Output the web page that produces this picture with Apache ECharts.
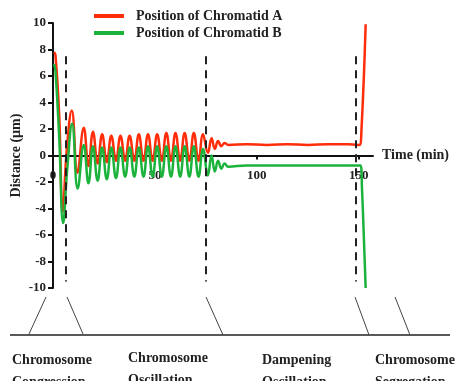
<!DOCTYPE html>
<html>
<head>
<meta charset="utf-8">
<script src="https://cdn.jsdelivr.net/npm/echarts@6/dist/echarts.min.js"></script>
<style>
  html, body { margin: 0; padding: 0; background: #fff; }
  #main { width: 457px; height: 381px; }
</style>
</head>
<body>
<div id="main"></div>
<script>
'use strict';

// time (min) / distance (um), peaks and troughs
var timeA = [0.5, 1.2, 3.0, 4.8, 6.8, 9.2, 12.0, 15.1, 17.4, 19.6, 21.9, 24.1, 26.4, 28.6, 30.9, 33.1, 35.4, 37.6, 39.9,
    42.1, 44.4, 46.6, 48.9, 51.1, 53.4, 55.6, 57.9, 60.1, 62.4, 64.6, 66.9, 69.1, 71.4, 73.6, 76.0, 77.8, 79.4, 81.0,
    82.6, 84.2, 86.0, 95, 105, 115, 125, 135, 145, 150.3, 151.3, 153.4];
var distA = [7.8, 7.6, 3.2, -4.2, 0.5, 3.4, -1.3, 2.1, -0.8, 1.8, -0.6, 1.6, -0.5, 1.5, -0.4, 1.5, -0.4, 1.5, -0.4,
    1.6, -0.4, 1.6, -0.4, 1.6, -0.4, 1.7, -0.4, 1.7, -0.4, 1.7, -0.4, 1.7, -0.4, 1.6, 0.2, 1.3, 0.5, 1.1,
    0.7, 0.95, 0.8, 0.85, 0.8, 0.85, 0.8, 0.85, 0.85, 0.8, 1.8, 9.9];

var timeB = [0.5, 1.2, 3.0, 5.0, 7.0, 9.4, 12.1, 15.1, 17.4, 19.6, 21.9, 24.1, 26.4, 28.6, 30.9, 33.1, 35.4, 37.6, 39.9,
    42.1, 44.4, 46.6, 48.9, 51.1, 53.4, 55.6, 57.9, 60.1, 62.4, 64.6, 66.9, 69.1, 71.4, 73.6, 76.0, 77.8, 79.4, 81.0,
    82.6, 84.2, 86.0, 95, 105, 115, 125, 135, 145, 150.8, 151.6, 153.4];
var distB = [6.9, 6.4, 1.5, -5.1, -1.0, 2.4, -2.5, 0.8, -2.1, 0.7, -1.9, 0.6, -1.8, 0.6, -1.7, 0.6, -1.6, 0.6, -1.6,
    0.6, -1.6, 0.7, -1.6, 0.7, -1.6, 0.7, -1.6, 0.7, -1.6, 0.7, -1.6, 0.7, -1.6, 0.5, -1.5, 0.0, -1.2, -0.4,
    -1.0, -0.6, -0.85, -0.75, -0.75, -0.75, -0.75, -0.75, -0.75, -0.75, -2.5, -10];

var seriesNames = ['Position of Chromatid A', 'Position of Chromatid B'];
var phaseTimes = [6.4, 75, 148.5];   // dashed dividers
var phaseLabels = ['Chromosome\nCongression', 'Chromosome\nOscillation', 'Dampening\nOscillation', 'Chromosome\nSegregation'];
var xTicks = [0, 50, 100, 150];

function zip(xs, ys) {
    return xs.map(function (x, i) { return [x, ys[i]]; });
}

var serif = '"Liberation Serif", "DejaVu Serif", serif';
var myChart = echarts.init(document.getElementById('main'));

var option = {
    animation: false,
    backgroundColor: '#fff',
    textStyle: { fontFamily: serif },
    grid: { left: 53, right: 84, top: 23, bottom: 93, outerBoundsMode: 'none' },
    legend: {
        orient: 'vertical',
        left: 89,
        top: 4,
        itemWidth: 30,
        itemHeight: 4,
        itemGap: 3,
        icon: 'rect',
        data: seriesNames,
        textStyle: { fontFamily: serif, fontWeight: 'bold', fontSize: 14, color: '#222', padding: [0, 0, 0, 7] }
    },
    xAxis: {
        type: 'value',
        min: 0,
        max: 157,
        // axis sits on y = 0, i.e. half way up the 265px tall grid
        offset: -132.5,
        name: 'Time (min)',
        nameLocation: 'end',
        nameGap: 9,
        nameTextStyle: { fontFamily: serif, fontWeight: 'bold', fontSize: 14, color: '#222', padding: [29, 0, 0, 0] },
        splitLine: { show: false },
        axisLine: { onZero: false, lineStyle: { color: '#111', width: 2 } },
        axisTick: { customValues: xTicks.slice(1), length: 4, lineStyle: { color: '#111', width: 2 } },
        axisLabel: { customValues: xTicks, margin: 14, fontFamily: serif, fontWeight: 'bold', fontSize: 13, color: '#222' }
    },
    yAxis: {
        type: 'value',
        min: -10,
        max: 10,
        interval: 2,
        name: 'Distance (µm)',
        nameLocation: 'middle',
        nameGap: 30,
        nameMoveOverlap: false,
        nameTextStyle: { fontFamily: serif, fontWeight: 'bold', fontSize: 14, color: '#222' },
        splitLine: { show: false },
        axisLine: { show: true, onZero: false, lineStyle: { color: '#111', width: 2 } },
        axisTick: { show: true, length: 5, lineStyle: { color: '#111', width: 2 } },
        axisLabel: { margin: 7, fontFamily: serif, fontWeight: 'bold', fontSize: 13, color: '#222' }
    },
    series: [
        {
            name: seriesNames[0],
            type: 'line',
            data: zip(timeA, distA),
            smooth: 0.45,
            showSymbol: false,
            color: '#ff2d0a',
            lineStyle: { width: 2.5, color: '#ff2d0a' },
            markLine: {
                silent: true,
                symbol: ['none', 'none'],
                label: { show: false },
                lineStyle: { color: '#222', width: 2, type: [8, 6] },
                data: phaseTimes.map(function (t) {
                    return [{ coord: [t, 7.5] }, { coord: [t, -9.5] }];
                })
            }
        },
        {
            name: seriesNames[1],
            type: 'line',
            data: zip(timeB, distB),
            smooth: 0.45,
            showSymbol: false,
            color: '#1cb33c',
            lineStyle: { width: 2.5, color: '#1cb33c' }
        }
    ],
    graphic: [
        // phase timeline under the chart
        { type: 'line', shape: { x1: 10, y1: 335, x2: 450, y2: 335 }, style: { stroke: '#222', lineWidth: 1.5 } },
        { type: 'line', shape: { x1: 29, y1: 334, x2: 46, y2: 297 }, style: { stroke: '#444', lineWidth: 1 } },
        { type: 'line', shape: { x1: 83, y1: 334, x2: 67, y2: 297 }, style: { stroke: '#444', lineWidth: 1 } },
        { type: 'line', shape: { x1: 223, y1: 335, x2: 206, y2: 297 }, style: { stroke: '#444', lineWidth: 1 } },
        { type: 'line', shape: { x1: 369, y1: 335, x2: 355, y2: 297 }, style: { stroke: '#444', lineWidth: 1 } },
        { type: 'line', shape: { x1: 410, y1: 335, x2: 395, y2: 297 }, style: { stroke: '#444', lineWidth: 1 } },
        { type: 'text', x: 12, y: 349, style: { text: phaseLabels[0], font: 'bold 14px ' + serif, fill: '#222', lineHeight: 22 } },
        { type: 'text', x: 128, y: 347, style: { text: phaseLabels[1], font: 'bold 14px ' + serif, fill: '#222', lineHeight: 22 } },
        { type: 'text', x: 262, y: 349, style: { text: phaseLabels[2], font: 'bold 14px ' + serif, fill: '#222', lineHeight: 22 } },
        { type: 'text', x: 375, y: 349, style: { text: phaseLabels[3], font: 'bold 14px ' + serif, fill: '#222', lineHeight: 22 } }
    ]
};

myChart.setOption(option);
</script>
</body>
</html>
